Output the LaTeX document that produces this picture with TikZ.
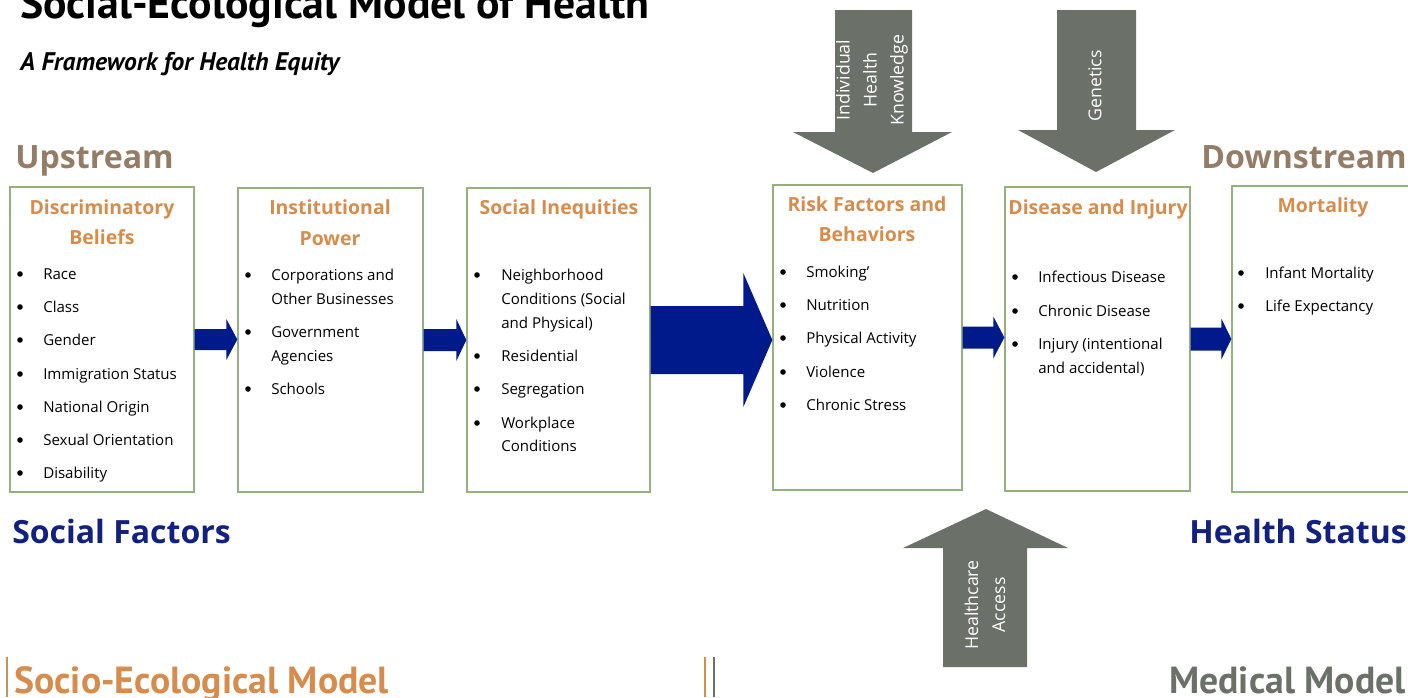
\documentclass[tikz,border=0pt]{standalone}
\usepackage{fontspec}
\setmainfont{Open Sans}
\newfontfamily\myriad{PT Sans}
\usetikzlibrary{calc}
\definecolor{boxline}{RGB}{152,176,128}
\definecolor{headorange}{RGB}{214,140,76}
\definecolor{streambrown}{RGB}{147,125,102}
\definecolor{levelblue}{RGB}{18,32,128}
\definecolor{flowblue}{RGB}{0,26,140}
\definecolor{factorgray}{RGB}{107,112,105}

% block arrow from the east side of #1 to the west side of #2
% #3 shaft half height, #4 head half height, #5 head length (px)
\newcommand{\flowarrow}[5]{%
  \coordinate (tip) at (#2.west |- #1.east);
  \fill[flow] ($(#1.east)+(0,-#3)$) -- ($(tip)+(-#5,-#3)$) -- ($(tip)+(-#5,-#4)$) -- (tip)
    -- ($(tip)+(-#5,#4)$) -- ($(tip)+(-#5,#3)$) -- ($(#1.east)+(0,#3)$) -- cycle;
}

\begin{document}
\begin{tikzpicture}[
  x=0.75pt, y=-0.75pt,
  box/.style={draw=boxline, line width=1pt},
  head/.style={anchor=base, inner sep=0pt, text=headorange,
    font=\fontsize{14.6}{17}\selectfont\bfseries},
  item/.style={anchor=base west, inner sep=0pt, font=\fontsize{11.3}{13.5}\selectfont},
  dot/.style={circle, fill=black, inner sep=0pt, minimum size=4.2pt},
  flow/.style={fill=flowblue},
  factor/.style={fill=factorgray},
  factortext/.style={rotate=90, align=center, text=white,
    font=\fontsize{13.3}{20.25}\selectfont},
  stream/.style={inner sep=0pt, text=streambrown, font=\fontsize{24.1}{28}\selectfont\bfseries},
  level/.style={inner sep=0pt, text=levelblue, font=\fontsize{24}{28}\selectfont\bfseries},
  model/.style={inner sep=0pt, font=\myriad\fontsize{28.3}{32}\selectfont\bfseries}
]
\useasboundingbox (0,0) rectangle (1408,697);

% title
\node[anchor=base west, inner sep=0pt, font=\myriad\fontsize{32.8}{36}\selectfont\bfseries]
  (title) at (20,18) {Social-Ecological Model of Health};
\node[anchor=base west, inner sep=0pt, font=\myriad\fontsize{19.1}{22}\selectfont\bfseries\itshape]
  (subtitle) at (20,70) {A Framework for Health Equity};

\node[stream, anchor=base west] (up) at (15,168) {Upstream};
\node[stream, anchor=base east] (down) at (1407,168) {Downstream};

% boxes
\node[box, minimum width=138pt, minimum height=228.75pt] (belief) at (102,339.5) {};
\node[box, minimum width=138.75pt, minimum height=228pt] (power) at (330.5,340) {};
\node[box, minimum width=137.25pt, minimum height=228pt] (inequity) at (558.5,340) {};
\node[box, minimum width=141.75pt, minimum height=228.75pt] (risk) at (867.5,337.5) {};
\node[box, minimum width=138.75pt, minimum height=228pt] (disease) at (1097.5,339) {};
\node[box, minimum width=142.5pt, minimum height=229.5pt] (mortality) at (1327,339) {};

% box 1
\node[head] (belief-h1) at (102,214) {Discriminatory};
\node[head] (belief-h2) at (102,244) {Beliefs};
\foreach \y/\t [count=\i] in {279/Race, 312/Class, 345/Gender, 379/Immigration Status,
  412/National Origin, 445/Sexual Orientation, 478/Disability}{
  \node[dot] (belief-d\i) at (20,\y-5) {};
  \node[item] (belief-i\i) at (43,\y) {\t};
}

% box 2
\node[head] (power-h1) at (330,214) {Institutional};
\node[head] (power-h2) at (330,245) {Power};
\foreach \y [count=\i] in {280,337,394}
  \node[dot] (power-d\i) at (248,\y-5) {};
\foreach \y/\t [count=\i] in {280/Corporations and, 304/Other Businesses,
  337/Government, 361/Agencies, 394/Schools}
  \node[item] (power-i\i) at (271,\y) {\t};

% box 3
\node[head] (inequity-h1) at (559,214) {Social Inequities};
\foreach \y [count=\i] in {280,361,394,428}
  \node[dot] (inequity-d\i) at (477,\y-5) {};
\foreach \y/\t [count=\i] in {280/Neighborhood, 304/{Conditions (Social}, 328/{and Physical)},
  361/Residential, 394/Segregation, 428/Workplace, 451/Conditions}
  \node[item] (inequity-i\i) at (501,\y) {\t};

% box 4
\node[head] (risk-h1) at (867,211) {Risk Factors and};
\node[head] (risk-h2) at (867,241) {Behaviors};
\foreach \y/\t [count=\i] in {277/Smoking', 310/Nutrition, 343/Physical Activity,
  377/Violence, 410/Chronic Stress}{
  \node[dot] (risk-d\i) at (783,\y-5) {};
  \node[item] (risk-i\i) at (806,\y) {\t};
}

% box 5
\node[head] (disease-h1) at (1098,214) {Disease and Injury};
\foreach \y [count=\i] in {282,316,349}
  \node[dot] (disease-d\i) at (1015,\y-5) {};
\foreach \y/\t [count=\i] in {282/Infectious Disease, 316/Chronic Disease,
  349/{Injury (intentional}, 373/{and accidental)}}
  \node[item] (disease-i\i) at (1038,\y) {\t};

% box 6
\node[head] (mortality-h1) at (1323,212) {Mortality};
\foreach \y/\t [count=\i] in {278/Infant Mortality, 311/Life Expectancy}{
  \node[dot] (mortality-d\i) at (1241,\y-5) {};
  \node[item] (mortality-i\i) at (1265,\y) {\t};
}

% arrows between the boxes
\flowarrow{belief}{power}{10.5}{20.5}{11}
\flowarrow{power}{inequity}{11}{21}{10}
\flowarrow{inequity}{risk}{34}{67}{29}
\flowarrow{risk}{disease}{11}{21}{11}
\flowarrow{disease}{mortality}{11.5}{20.5}{10}

% outside factors
\fill[factor] (835,10) -- (912,10) -- (912,132) -- (952,132) -- (873,173) -- (793,132)
  -- (835,132) -- cycle;
\node[factortext] (knowledge) at (872,80) {Individual\\Health\\Knowledge};
\fill[factor] (1057,10) -- (1136,10) -- (1136,130) -- (1175,130) -- (1096,172) -- (1018,130)
  -- (1057,130) -- cycle;
\node[factortext] (genetics) at (1095,86) {Genetics};
\fill[factor] (943,667) -- (1027,667) -- (1027,548) -- (1068,548) -- (986,509) -- (903,548)
  -- (943,548) -- cycle;
\node[factortext] (access) at (985,605) {Healthcare\\Access};

\node[level, anchor=base west] (social) at (12,543) {Social Factors};
\node[level, anchor=base east] (status) at (1407,543) {Health Status};

% models
\draw[headorange, line width=1.5pt] (7,657) -- (7,697);
\draw[headorange, line width=1.5pt] (705,657) -- (705,697);
\draw[factorgray, line width=1.5pt] (714,657) -- (714,697);
\node[model, anchor=base west, text=headorange] (socio) at (14,693) {Socio-Ecological Model};
\node[model, anchor=base east, text=factorgray] (medical) at (1406,693) {Medical Model};

\end{tikzpicture}
\end{document}
